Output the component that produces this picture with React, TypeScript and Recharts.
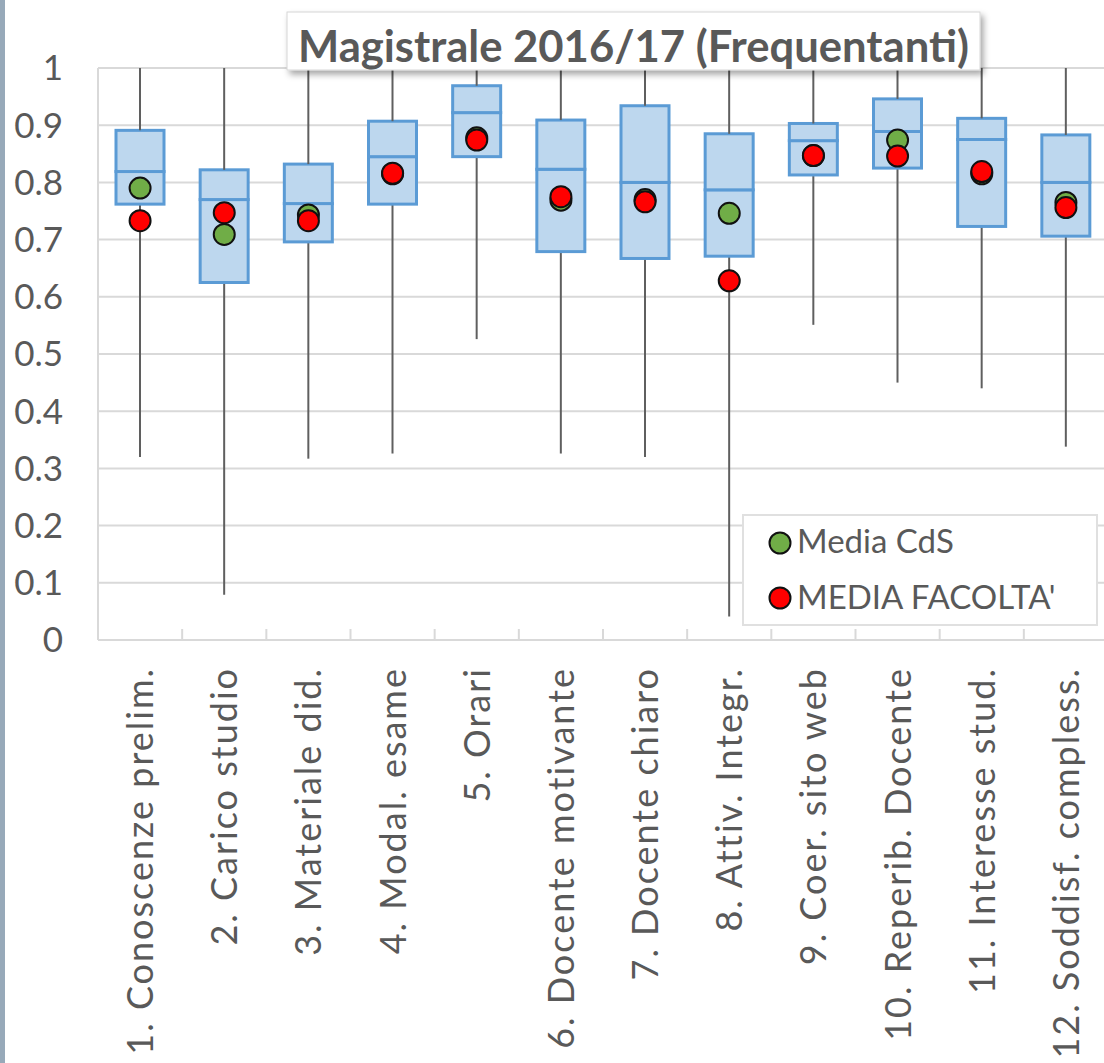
import React from "react";
import { ComposedChart, Bar, Scatter, XAxis, YAxis, CartesianGrid, Legend } from "recharts";

// categories and values
const categories = [
  "1. Conoscenze prelim.",
  "2. Carico studio",
  "3. Materiale did.",
  "4. Modal. esame",
  "5. Orari",
  "6. Docente motivante",
  "7. Docente chiaro",
  "8. Attiv. Integr.",
  "9. Coer. sito web",
  "10. Reperib. Docente",
  "11. Interesse stud.",
  "12. Soddisf. compless.",
];
const whiskerLow = [0.32, 0.079, 0.317, 0.326, 0.526, 0.326, 0.32, 0.041, 0.551, 0.45, 0.44, 0.338];
const quartile1 = [0.762, 0.625, 0.696, 0.762, 0.845, 0.679, 0.667, 0.671, 0.813, 0.825, 0.723, 0.706];
const medians = [0.819, 0.77, 0.763, 0.845, 0.922, 0.823, 0.8, 0.787, 0.873, 0.889, 0.875, 0.8];
const quartile3 = [0.891, 0.822, 0.832, 0.907, 0.969, 0.909, 0.934, 0.885, 0.903, 0.946, 0.912, 0.883];
const whiskerHigh = [1, 1, 1, 1, 1, 1, 1, 1, 1, 1, 1, 1];
const mediaCdS = [0.79, 0.709, 0.743, 0.815, 0.878, 0.769, 0.77, 0.746, 0.847, 0.874, 0.815, 0.765];
const mediaFacolta = [0.733, 0.747, 0.733, 0.816, 0.874, 0.775, 0.766, 0.628, 0.847, 0.846, 0.819, 0.756];
const yTicks = [0, 0.1, 0.2, 0.3, 0.4, 0.5, 0.6, 0.7, 0.8, 0.9, 1];
const seriesNames = ["Media CdS", "MEDIA FACOLTA'"];
const title = "Magistrale 2016/17 (Frequentanti)";

const data = categories.map((name, i) => ({
  name,
  base: whiskerLow[i],
  lowWhisker: quartile1[i] - whiskerLow[i],
  lowBox: medians[i] - quartile1[i],
  highBox: quartile3[i] - medians[i],
  highWhisker: whiskerHigh[i] - quartile3[i],
  cds: mediaCdS[i],
  fac: mediaFacolta[i],
}));

const W = 1110;
const H = 1063;
const TOP = 68;
const LEFT = 98;
const RIGHT = 2;
const XAXIS_H = 423;
const PLOT_BOTTOM = H - XAXIS_H;
const BAND = (W - LEFT - RIGHT) / categories.length;
const TEXT = "#595959";
const GRID = "#d9d9d9";
const FONT = "Lato, 'Open Sans', sans-serif";

const Whisker = (p: any) => {
  const cx = p.x + p.width / 2;
  return <line x1={cx} x2={cx} y1={p.y} y2={p.y + p.height} stroke="#5f5f5f" strokeWidth={2} />;
};

const BoxPart = (p: any) => (
  <rect x={p.x} y={p.y} width={p.width} height={p.height} fill="#bdd7ee" stroke="#5b9bd5" strokeWidth={3} />
);

const dot = (fill: string) => (p: any) => (
  <circle cx={p.cx} cy={p.cy} r={10.5} fill={fill} stroke="#111" strokeWidth={2} />
);

const XTick = (props: any) => {
  const { x, payload } = props;
  const ly = PLOT_BOTTOM + 27;
  return (
    <g>
      <line x1={x - BAND / 2} x2={x - BAND / 2} y1={PLOT_BOTTOM} y2={PLOT_BOTTOM - 11} stroke={GRID} strokeWidth={2} />
      <text
        x={x}
        y={ly}
        dy="0.36em"
        transform={`rotate(-90, ${x}, ${ly})`}
        textAnchor="end"
        fill={TEXT}
        fontSize={36}
        letterSpacing={2}
        fontFamily={FONT}
      >
        {payload.value}
      </text>
    </g>
  );
};

const LegendBox = (props: any) => {
  const items = (props.payload || [])
    .filter((p: any) => p.type !== "none")
    .sort((a: any, b: any) => seriesNames.indexOf(a.value) - seriesNames.indexOf(b.value));
  return (
    <svg width={356} height={112} style={{ display: "block" }}>
      <rect x={1} y={1} width={354} height={110} fill="#fff" stroke="#e0e0e0" strokeWidth={2} />
      {items.map((it: any, i: number) => (
        <g key={it.value}>
          <circle cx={38} cy={29 + i * 55} r={10.5} fill={it.color} stroke="#111" strokeWidth={2} />
          <text x={55} y={39 + i * 56} fill={TEXT} fontSize={33} fontFamily={FONT}>
            {it.value}
          </text>
        </g>
      ))}
    </svg>
  );
};

export default function App() {
  return (
    <div
      style={{
        position: "absolute",
        left: 0,
        top: 0,
        width: 1104,
        height: H,
        overflow: "hidden",
        background: "#fff",
        fontFamily: FONT,
      }}
    >
      <ComposedChart width={W} height={H} data={data} margin={{ top: TOP, right: RIGHT, bottom: 0, left: 0 }}>
        <CartesianGrid vertical={false} stroke={GRID} strokeWidth={2} />
        <XAxis
          dataKey="name"
          interval={0}
          height={XAXIS_H}
          tickLine={false}
          axisLine={{ stroke: GRID, strokeWidth: 2 }}
          tick={<XTick />}
        />
        <YAxis
          domain={[0, 1]}
          ticks={yTicks}
          width={LEFT}
          tickLine={false}
          tickSize={0}
          tickMargin={35}
          axisLine={{ stroke: GRID, strokeWidth: 2 }}
          tick={{ fill: TEXT, fontSize: 35, fontFamily: FONT }}
          tickFormatter={(v: number) => String(v)}
        />
        <Bar dataKey="base" stackId="b" barSize={48} fill="none" legendType="none" shape={() => <g />} isAnimationActive={false} />
        <Bar dataKey="lowWhisker" stackId="b" barSize={48} legendType="none" shape={Whisker} isAnimationActive={false} />
        <Bar dataKey="lowBox" stackId="b" barSize={48} legendType="none" shape={BoxPart} isAnimationActive={false} />
        <Bar dataKey="highBox" stackId="b" barSize={48} legendType="none" shape={BoxPart} isAnimationActive={false} />
        <Bar dataKey="highWhisker" stackId="b" barSize={48} legendType="none" shape={Whisker} isAnimationActive={false} />
        <Scatter dataKey="cds" name={seriesNames[0]} fill="#70ad47" shape={dot("#70ad47")} isAnimationActive={false} />
        <Scatter dataKey="fac" name={seriesNames[1]} fill="#ff0000" shape={dot("#ff0000")} isAnimationActive={false} />
        <Legend
          layout="vertical"
          align="center"
          verticalAlign="middle"
          content={<LegendBox />}
          wrapperStyle={{ position: "absolute", left: 742, top: 514, width: 356, height: 112 }}
        />
      </ComposedChart>
      <svg width={1104} height={H} style={{ position: "absolute", left: 0, top: 0, pointerEvents: "none" }}>
        <defs>
          <filter id="shadow" x="-5%" y="-20%" width="115%" height="160%">
            <feDropShadow dx={3} dy={4} stdDeviation={3} floodColor="#000" floodOpacity={0.35} />
          </filter>
        </defs>
        <rect x={287} y={12} width={693} height={58} fill="#fff" stroke="#d6d6d6" strokeWidth={1} filter="url(#shadow)" />
        <text
          x={633.5}
          y={62}
          textAnchor="middle"
          fill={TEXT}
          fontSize={44}
          fontWeight="bold"
          fontFamily={FONT}
          textLength={671}
          lengthAdjust="spacingAndGlyphs"
        >
          {title}
        </text>
      </svg>
      <div style={{ position: "absolute", left: 0, top: 0, width: 5, height: H, background: "#97a9b9" }} />
    </div>
  );
}
